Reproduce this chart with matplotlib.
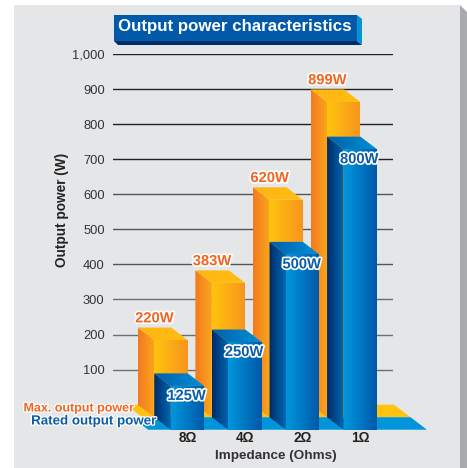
# Output power vs impedance, fake 3D columns drawn from polygons with gradients.
import matplotlib
matplotlib.use("Agg")
import matplotlib.pyplot as plt
import matplotlib.patheffects as pe
import numpy as np
from matplotlib.colors import LinearSegmentedColormap
from matplotlib.patches import Polygon

plt.rcParams["font.family"] = ["Liberation Sans", "DejaVu Sans"]

impedance = ["8Ω", "4Ω", "2Ω", "1Ω"]
max_power = [220, 383, 620, 899]
rated_power = [125, 250, 500, 800]
y_ticks = [100, 200, 300, 400, 500, 600, 700, 800, 900, 1000]
y_labels = ["100", "200", "300", "400", "500", "600", "700", "800", "900", "1,000"]

W, H = 467, 468
BAR_W = 0.58    # front face width, category units
DX = 0.2865     # depth of the fake 3D, category units
DY = 35.7       # depth of the fake 3D, watts

ORANGE = {"side": ("#F47920", "#FBA61C"), "front": ("#FFC40D", "#F7941D"), "top": ("#FFB515", "#FFBE10")}
BLUE = {"side": ("#002A68", "#0068B3"), "front": ("#0096DC", "#0058A8"), "top": ("#0060AC", "#0090D6")}


def fig_box(x, y):
    # pixel position in the picture -> figure fraction
    return x / W, 1 - y / H


def fig_poly(fig, pts, color):
    fig.patches.append(Polygon([fig_box(*p) for p in pts], closed=True, fc=color, ec="none",
                               transform=fig.transFigure, figure=fig))


def grad_poly(ax, verts, colors, zorder):
    verts = np.array(verts, dtype=float)
    cmap = LinearSegmentedColormap.from_list("g", colors)
    extent = (verts[:, 0].min(), verts[:, 0].max(), verts[:, 1].min(), verts[:, 1].max())
    im = ax.imshow(np.linspace(0, 1, 64)[None, :], cmap=cmap, extent=extent, aspect="auto",
                   interpolation="bilinear", zorder=zorder)
    im.set_clip_path(Polygon(verts, closed=True, transform=ax.transData))
    im.set_clip_box(ax.figure.bbox)


def column(ax, left, value, base, style, zorder):
    # left = back left corner, base = back bottom level
    top = base + value
    side = [(left, top), (left + DX, top - DY), (left + DX, base - DY), (left, base)]
    front = [(left + DX, top - DY), (left + DX + BAR_W, top - DY),
             (left + DX + BAR_W, base - DY), (left + DX, base - DY)]
    roof = [(left, top), (left + BAR_W, top), (left + BAR_W + DX, top - DY), (left + DX, top - DY)]
    grad_poly(ax, side, style["side"], zorder)
    grad_poly(ax, front, style["front"], zorder)
    grad_poly(ax, roof, style["top"], zorder)


fig = plt.figure(figsize=(W / 100, H / 100), dpi=100, facecolor="white")

# gray panel with its shaded right edge
fig_poly(fig, [(14, 5), (460, 5), (460, 468), (14, 468)], "#E5E6E8")
fig_poly(fig, [(460, 5), (467, 12), (467, 468), (460, 468)], "#A9AAAD")

# title banner
fig_poly(fig, [(114, 15), (357, 15), (357, 41), (114, 41)], "#0059A9")
fig_poly(fig, [(114, 41), (357, 41), (362, 45), (118, 45)], "#002D6A")
fig_poly(fig, [(357, 15), (362, 19), (362, 45), (357, 41)], "#0095DA")
fig.text(235 / W, 1 - 26.5 / H, "Output power characteristics", color="white", fontsize=12.2,
         fontweight="bold", ha="center", va="center")

# axes box: x 113-393 px, 0 W at y=404.7 px, 1000 W at y=54 px
ax = fig.add_axes([113 / W, 1 - 404.7 / H, 280 / W, 350.7 / H])
ax.set_zorder(2)  # figure patches would cover it otherwise
ax.patch.set_visible(False)
for s in ax.spines.values():
    s.set_visible(False)

ax.set_yticks(y_ticks, y_labels)
ax.set_xticks(range(len(impedance)), impedance, fontweight="bold")
ax.tick_params(axis="y", length=0, pad=6, labelsize=9.3, labelcolor="#333333")
ax.tick_params(axis="x", length=0, pad=19, labelsize=9.8, labelcolor="#222222")
ax.grid(axis="y", lw=1.0, zorder=0)
ax.set_axisbelow(True)
for tick, line in zip(y_ticks, ax.get_ygridlines()):
    line.set_color("#222222" if tick >= 700 else "#555555" if tick >= 400 else "#6E6E6E")

# floors
floor_left, floor_right = -1.068, 3.585
ax.add_patch(Polygon([(floor_left, 0), (floor_right, 0), (floor_right + DX, -DY), (floor_left + DX, -DY)],
                     fc="#FFC20E", ec="none", clip_on=False, zorder=1))
ax.add_patch(Polygon([(floor_left + 0.1, -DY), (floor_right + DX, -DY), (floor_right + 2 * DX, -2 * DY),
                      (floor_left + 0.1 + DX, -2 * DY)],
                     fc="#0095DA", ec="none", clip_on=False, zorder=1))

for i, v in enumerate(max_power):
    column(ax, i - BAR_W / 2 - 2 * DX, v, 0, ORANGE, 2)
for i, v in enumerate(rated_power):
    column(ax, i - BAR_W / 2 - DX, v, -DY, BLUE, 3)

halo = [pe.withStroke(linewidth=2.4, foreground="white")]
for i, v in enumerate(max_power):
    ax.annotate(f"{v}W", xy=(i - 2 * DX, v), xytext=(0, 6.6), textcoords="offset points",
                ha="center", va="center", fontsize=10.6, fontweight="bold", color="#F26522",
                path_effects=halo, zorder=5, annotation_clip=False)
for i, v in enumerate(rated_power):
    ax.annotate(f"{v}W", xy=(i, v - 2 * DY), xytext=(-0.7, -7.2), textcoords="offset points",
                ha="center", va="center", fontsize=10.6, fontweight="bold", color="#0B5CA8",
                path_effects=halo, zorder=5, annotation_clip=False)

ax.set_xlim(-1.293, 3.568)
ax.set_ylim(0, 1000)

ax.set_xlabel("Impedance (Ohms)", fontsize=9.7, fontweight="bold", color="#333333")
ax.xaxis.set_label_coords((276 - 113) / 280, (404.7 - 450) / 350.7)
ax.set_ylabel("Output power (W)", fontsize=9.8, fontweight="bold", color="#222222")
ax.yaxis.set_label_coords((69 - 113) / 280, (404.7 - 210) / 350.7)

# series names sit on the floor, halo over the bars
fig.text(134 / W, 1 - 408.5 / H, "Max. output power", color="#F26522", fontsize=9.0, fontweight="bold",
         ha="right", va="center", path_effects=[pe.withStroke(linewidth=1.8, foreground="white")])
fig.text(156 / W, 1 - 421.5 / H, "Rated output power", color="#0B5CA8", fontsize=9.6, fontweight="bold",
         ha="right", va="center", path_effects=[pe.withStroke(linewidth=1.8, foreground="white")])

fig.savefig("out.png", dpi=100)
